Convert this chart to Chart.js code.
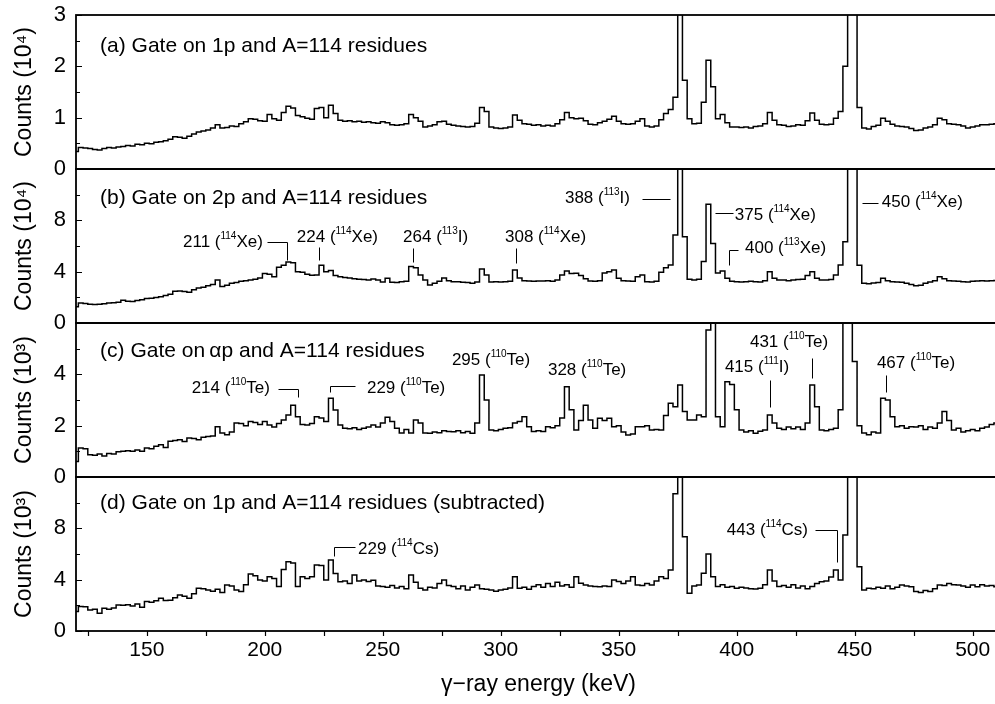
<!DOCTYPE html>
<html>
<head>
<meta charset="utf-8">
<script src="https://cdn.jsdelivr.net/npm/chart.js@4.4.0/dist/chart.umd.min.js"></script>
<style>
html, body { margin: 0; padding: 0; background: #fff; overflow: hidden; }
#wrap { position: relative; width: 995px; height: 704px; overflow: hidden; }
#wrap canvas { position: absolute; left: 0; top: 0; }
</style>
</head>
<body>
<div id="wrap">
  <canvas id="pa" width="1005" height="704"></canvas>
  <canvas id="pb" width="1005" height="704"></canvas>
  <canvas id="pc" width="1005" height="704"></canvas>
  <canvas id="pd" width="1005" height="704"></canvas>
</div>
<script>
// gamma-ray spectra, 2 keV bins starting at 120 keV
var binStart = 120, binWidth = 2, binLast = 510;
var energies = [];
for (var e = binStart; e <= binLast; e += binWidth) energies.push(e);

var xTicks = [150, 200, 250, 300, 350, 400, 450, 500];

// (a) counts in 10^4
var countsA = [
  0.34,0.42,0.41,0.40,0.38,0.37,0.40,0.42,0.41,0.43,
  0.44,0.46,0.45,0.48,0.47,0.50,0.49,0.52,0.53,0.55,
  0.58,0.63,0.62,0.60,0.64,0.68,0.72,0.74,0.76,0.80,
  0.86,0.80,0.81,0.84,0.83,0.88,0.92,0.98,0.97,0.94,
  0.93,1.06,0.98,0.95,1.10,1.22,1.19,1.04,1.02,0.99,
  0.97,1.18,1.20,1.00,1.24,1.08,0.95,0.93,0.94,0.92,
  0.93,0.91,0.92,0.90,0.89,0.92,0.90,0.86,0.85,0.86,
  0.88,1.06,1.00,0.93,0.82,0.84,0.86,0.92,0.93,0.87,
  0.85,0.84,0.83,0.82,0.83,0.89,1.20,1.12,0.82,0.80,
  0.79,0.80,0.82,1.05,0.95,0.88,0.87,0.85,0.86,0.84,
  0.85,0.84,0.88,0.96,1.10,1.00,0.98,0.99,0.94,0.87,
  0.86,0.90,0.93,0.97,1.03,0.93,0.88,0.87,0.88,0.93,
  0.98,0.84,0.82,0.84,0.96,1.08,1.16,1.40,3.60,1.73,
  0.98,0.88,0.89,1.30,2.12,1.60,0.98,1.06,0.90,0.82,
  0.82,0.81,0.82,0.80,0.83,0.84,0.88,1.10,0.95,0.86,
  0.85,0.83,0.84,0.86,0.85,0.94,1.09,0.95,0.87,0.86,
  0.87,0.99,1.12,2.00,3.60,3.60,1.20,0.80,0.78,0.83,
  0.85,0.99,0.93,0.87,0.84,0.83,0.82,0.79,0.75,0.76,
  0.80,0.82,0.86,0.99,0.96,0.88,0.87,0.86,0.84,0.80,
  0.82,0.84,0.86,0.86,0.87,0.88
];

// (b) counts in 10^4
var countsB = [
  1.27,1.55,1.52,1.46,1.45,1.47,1.50,1.55,1.58,1.62,
  1.78,1.70,1.68,1.75,1.82,1.90,1.92,1.98,2.05,2.15,
  2.25,2.48,2.50,2.45,2.40,2.60,2.72,2.78,2.90,3.00,
  3.35,2.85,2.95,3.10,3.15,3.25,3.30,3.35,3.40,3.50,
  3.85,3.80,3.60,4.35,4.50,4.75,4.70,4.00,3.95,3.80,
  3.72,3.75,4.50,4.00,4.10,3.70,3.60,3.55,3.50,3.45,
  3.40,3.38,3.35,3.42,3.35,3.20,3.48,3.18,3.15,3.22,
  3.25,4.40,4.30,3.75,3.35,2.96,3.10,3.25,3.50,3.30,
  3.22,3.22,3.18,3.15,3.10,3.20,4.20,3.75,3.20,3.22,
  3.20,3.22,3.25,4.13,3.50,3.30,3.28,3.25,3.28,3.27,
  3.30,3.25,3.35,3.75,4.05,3.85,3.87,3.70,3.45,3.27,
  3.25,3.30,3.90,3.99,4.13,3.48,3.30,3.27,3.25,3.60,
  3.74,3.22,3.20,3.25,3.95,4.30,4.52,6.86,13.0,6.73,
  3.40,3.35,3.40,4.80,9.25,6.20,3.90,4.05,3.48,3.25,
  3.22,3.20,3.22,3.25,3.22,3.20,3.30,3.99,3.48,3.35,
  3.35,3.30,3.35,3.38,3.40,3.70,3.99,3.48,3.35,3.35,
  3.38,3.74,4.52,6.34,13.0,13.0,4.50,3.10,3.05,3.12,
  3.15,3.48,3.30,3.22,3.20,3.18,3.10,3.00,2.91,2.95,
  3.10,3.20,3.30,3.61,3.45,3.30,3.27,3.25,3.22,3.20,
  3.25,3.27,3.30,3.28,3.30,3.32
];

// (c) counts in 10^3
var countsC = [
  0.60,1.13,1.10,0.87,0.85,0.90,0.82,0.92,0.90,0.98,
  1.00,1.02,1.00,1.05,1.00,1.13,1.10,1.20,1.26,1.15,
  1.39,1.42,1.45,1.38,1.52,1.50,1.45,1.55,1.58,1.60,
  1.96,1.71,1.65,1.75,2.10,2.08,2.00,2.16,2.12,2.05,
  2.16,2.03,1.95,2.08,2.22,2.42,2.80,2.35,2.05,2.03,
  2.08,2.35,2.30,2.16,3.07,2.61,2.03,1.90,1.88,1.92,
  1.85,1.90,1.95,2.03,1.95,2.10,2.33,2.16,1.90,1.71,
  1.85,1.71,2.22,2.10,1.71,1.70,1.75,1.72,1.80,1.77,
  1.76,1.80,1.72,1.77,1.70,2.10,3.97,3.00,1.83,1.80,
  1.85,1.90,1.92,2.10,2.16,2.35,1.96,1.77,1.80,1.77,
  1.96,1.92,2.00,2.30,3.52,2.62,1.83,2.20,2.80,2.22,
  1.90,2.29,2.20,2.29,1.96,2.00,1.75,1.64,1.68,1.96,
  1.96,2.00,1.83,1.85,1.83,2.40,2.87,2.74,3.58,2.55,
  2.22,2.22,2.42,2.35,5.73,7.00,2.35,1.96,3.71,3.60,
  2.62,1.83,1.75,1.80,1.70,1.78,1.83,2.42,2.10,1.90,
  1.85,1.95,1.88,1.95,1.85,2.10,3.58,2.74,1.83,1.80,
  1.85,1.90,2.62,7.00,7.00,4.50,2.00,1.71,1.65,1.75,
  1.71,3.07,3.00,2.35,1.96,2.00,1.90,1.96,1.95,2.00,
  1.85,1.95,1.90,2.10,2.55,2.20,1.83,1.90,1.75,1.80,
  1.85,1.80,1.90,1.95,2.05,2.10
];

// (d) counts in 10^3
var countsD = [
  1.51,1.90,1.88,1.64,1.70,1.38,1.77,1.70,1.80,2.03,
  2.00,2.05,1.95,2.10,1.85,2.29,2.25,2.35,2.55,2.37,
  2.40,2.60,2.81,2.70,2.55,2.90,3.33,3.30,3.20,3.10,
  3.25,3.00,3.59,3.50,3.20,3.07,3.60,4.44,4.30,3.97,
  3.90,4.23,4.10,3.46,4.80,5.40,5.30,3.46,4.23,4.10,
  4.23,5.14,5.10,3.97,5.53,4.49,3.84,3.90,3.70,4.36,
  3.90,3.97,3.85,3.95,3.50,3.46,3.40,3.55,3.35,3.46,
  3.30,4.36,3.80,3.33,3.20,3.40,3.35,3.70,3.97,3.55,
  3.46,3.30,3.50,3.20,3.40,3.59,3.30,3.25,3.20,3.10,
  3.20,3.25,3.35,4.23,3.33,3.40,3.25,3.46,3.60,3.40,
  3.70,3.46,3.80,3.50,3.60,3.40,4.23,3.72,3.59,3.50,
  3.46,3.45,3.50,3.46,3.97,3.85,3.70,3.90,4.23,3.59,
  3.55,3.70,3.59,3.90,4.23,4.10,4.75,10.7,14.0,7.35,
  2.94,3.50,3.59,4.50,6.00,4.23,3.46,3.60,3.40,3.46,
  3.33,3.40,3.35,3.30,3.28,3.33,3.60,4.75,3.90,3.46,
  3.55,3.40,3.60,3.35,3.50,3.30,3.46,3.70,3.84,3.90,
  4.20,4.75,3.97,7.48,14.0,14.0,5.00,3.20,3.33,3.30,
  3.40,3.33,3.50,3.30,3.40,3.59,3.50,3.45,3.07,3.00,
  3.15,3.07,3.30,3.59,3.55,3.70,3.60,3.59,3.50,3.40,
  3.59,3.45,3.60,3.50,3.55,3.45
];

var FONT = '"Liberation Sans", Arial, Helvetica, sans-serif';

// peak labels: anchor [keV, counts], leader polyline in the same units
var notesB = [
  { at: [199.2, 6.3], align: 'right', text: '211 (^114Xe)', lead: [[200.9, 6.3], [209.4, 6.3], [209.4, 4.9]] },
  { at: [213.6, 6.7], align: 'left', text: '224 (^114Xe)', lead: [[223, 5.9], [223, 4.9]] },
  { at: [258.6, 6.7], align: 'left', text: '264 (^113I)', lead: [[262.8, 5.84], [262.8, 4.75]] },
  { at: [301.8, 6.7], align: 'left', text: '308 (^114Xe)', lead: [[306.4, 5.85], [306.4, 4.68]] },
  { at: [327.2, 9.74], align: 'left', text: '388 (^113I)', lead: [[359.8, 9.66], [371.7, 9.66]] },
  { at: [399.2, 8.42], align: 'left', text: '375 (^114Xe)', lead: [[390.8, 8.57], [398.4, 8.57]] },
  { at: [403.5, 5.85], align: 'left', text: '400 (^113Xe)', lead: [[400.5, 5.69], [396.7, 5.69], [396.7, 4.52]] },
  { at: [461.5, 9.43], align: 'left', text: '450 (^114Xe)', lead: [[453, 9.35], [459.8, 9.35]] }
];
var notesC = [
  { at: [202.2, 3.47], align: 'right', text: '214 (^110Te)', lead: [[205.6, 3.43], [214.1, 3.43], [214.1, 3.12]] },
  { at: [243.3, 3.47], align: 'left', text: '229 (^110Te)', lead: [[238.2, 3.55], [227.6, 3.55], [227.6, 3.31]] },
  { at: [279.3, 4.56], align: 'left', text: '295 (^110Te)', lead: [] },
  { at: [320.0, 4.17], align: 'left', text: '328 (^110Te)', lead: [] },
  { at: [395.0, 4.29], align: 'left', text: '415 (^111I)', lead: [[414.1, 3.78], [414.1, 2.73]] },
  { at: [405.6, 5.26], align: 'left', text: '431 (^110Te)', lead: [[431.9, 4.64], [431.9, 3.86]] },
  { at: [459.4, 4.44], align: 'left', text: '467 (^110Te)', lead: [[463.2, 3.97], [463.2, 3.31]] }
];
var notesD = [
  { at: [239.5, 6.39], align: 'left', text: '229 (^114Cs)', lead: [[238.2, 6.55], [229.3, 6.55], [229.3, 5.85]] },
  { at: [430.2, 7.87], align: 'right', text: '443 (^114Cs)', lead: [[433.1, 7.87], [442.5, 7.87], [442.5, 5.38]] }
];

var panels = [
  { id: 'pa', counts: countsA, max: 3, step: 1, minor: 0.5, top: 15, bottom: 169, unit: 'Counts (10\u2074)',
    title: '(a) Gate on 1p and A=114 residues', titleAt: [130.2, 2.40], notes: [] },
  { id: 'pb', counts: countsB, max: 12, step: 4, minor: 2, top: 169, bottom: 323, unit: 'Counts (10\u2074)',
    title: '(b) Gate on 2p and A=114 residues', titleAt: [130.2, 9.70], notes: notesB },
  { id: 'pc', counts: countsC, max: 6, step: 2, minor: 1, top: 323, bottom: 477, unit: 'Counts (10\u00B3)',
    title: '(c) Gate on\u2009\u03B1p and A=114 residues', titleAt: [130.2, 4.89], notes: notesC },
  { id: 'pd', counts: countsD, max: 12, step: 4, minor: 2, top: 477, bottom: 631, unit: 'Counts (10\u00B3)',
    title: '(d) Gate on 1p and A=114 residues (subtracted)', titleAt: [130.2, 9.94], notes: notesD }
];

// text with ^digits as superscript
function richText(ctx, x, y, text, align, size) {
  var parts = text.split(/\^(\d+)/);
  var sup = Math.round(size * 0.58);
  var w = 0;
  parts.forEach(function (p, i) {
    ctx.font = (i % 2 ? sup : size) + 'px ' + FONT;
    w += ctx.measureText(p).width;
  });
  var cx = align === 'right' ? x - w : x;
  ctx.textAlign = 'left';
  ctx.textBaseline = 'middle';
  parts.forEach(function (p, i) {
    ctx.font = (i % 2 ? sup : size) + 'px ' + FONT;
    ctx.fillText(p, cx, i % 2 ? y - size * 0.36 : y);
    cx += ctx.measureText(p).width;
  });
}

var decor = {
  id: 'decor',
  afterDraw: function (chart) {
    var p = chart.options.plugins.decor;
    var ctx = chart.ctx, a = chart.chartArea;
    var xs = chart.scales.x, ys = chart.scales.y;
    ctx.save();
    ctx.strokeStyle = '#000';
    ctx.fillStyle = '#000';
    ctx.lineWidth = 1.8;
    ctx.strokeRect(a.left, a.top, a.right - a.left, a.bottom - a.top);

    // inward y ticks on both sides
    ctx.lineWidth = 1.2;
    for (var v = 0; v <= p.max + 1e-9; v += p.minor) {
      var yy = Math.round(ys.getPixelForValue(v)) + 0.5;
      var len = Math.abs(v / p.step - Math.round(v / p.step)) < 1e-6 ? 6 : 4;
      ctx.beginPath();
      ctx.moveTo(a.left, yy); ctx.lineTo(a.left + len, yy);
      ctx.moveTo(a.right, yy); ctx.lineTo(a.right - len, yy);
      ctx.stroke();
    }
    // outward x ticks on the bottom panel
    if (p.xTicks) {
      for (var t = 125; t <= 510; t += 25) {
        var xx = Math.round(xs.getPixelForValue(t)) + 0.5;
        ctx.beginPath();
        ctx.moveTo(xx, a.bottom); ctx.lineTo(xx, a.bottom + 5);
        ctx.stroke();
      }
    }

    // panel title
    richText(ctx, xs.getPixelForValue(p.titleAt[0]), ys.getPixelForValue(p.titleAt[1]), p.title, 'left', 21);

    // peak labels
    ctx.lineWidth = 1;
    p.notes.forEach(function (n) {
      if (n.lead.length) {
        ctx.beginPath();
        n.lead.forEach(function (pt, i) {
          var px = Math.round(xs.getPixelForValue(pt[0])) + 0.5;
          var py = Math.round(ys.getPixelForValue(pt[1])) + 0.5;
          if (i === 0) ctx.moveTo(px, py); else ctx.lineTo(px, py);
        });
        ctx.stroke();
      }
      richText(ctx, xs.getPixelForValue(n.at[0]), ys.getPixelForValue(n.at[1]), n.text, n.align, 17);
    });
    ctx.restore();
  }
};

panels.forEach(function (p, k) {
  var last = k === panels.length - 1;
  new Chart(document.getElementById(p.id), {
    type: 'line',
    data: {
      labels: energies,
      datasets: [{
        data: p.counts,
        borderColor: '#000',
        borderWidth: 1.5,
        pointRadius: 0,
        stepped: 'middle',
        fill: false,
        clip: 0
      }]
    },
    options: {
      responsive: false,
      animation: false,
      events: [],
      layout: { padding: { left: 0, right: 4, top: p.top, bottom: last ? 0 : 704 - p.bottom } },
      plugins: {
        legend: { display: false },
        tooltip: { enabled: false },
        decor: { max: p.max, step: p.step, minor: p.minor, xTicks: last, title: p.title, titleAt: p.titleAt, notes: p.notes }
      },
      scales: {
        x: {
          type: 'linear',
          min: 120,
          max: 512,
          display: last,
          grid: { display: false, drawTicks: false },
          border: { display: false },
          afterBuildTicks: function (s) { s.ticks = xTicks.map(function (v) { return { value: v }; }); },
          afterFit: function (s) { s.height = last ? 73 : 0; },
          ticks: { color: '#000', padding: 7, maxRotation: 0, autoSkip: false, font: { size: 21, family: FONT } },
          title: { display: last, text: '\u03B3\u2212ray energy (keV)', color: '#000', padding: { top: 0, bottom: 6 }, font: { size: 23, family: FONT } }
        },
        y: {
          min: 0,
          max: p.max,
          grid: { display: false, drawTicks: false },
          border: { display: false },
          afterFit: function (s) { s.width = 76; s.paddingTop = 0; s.paddingBottom = 0; },
          ticks: {
            stepSize: p.step,
            autoSkip: false,
            color: '#000',
            padding: 10,
            font: { size: 22, family: FONT },
            callback: function (v) { return (k > 0 && v === p.max) ? '' : String(v); }
          },
          title: { display: true, text: p.unit, color: '#000', padding: { top: 11, bottom: 0 }, font: { size: 23, family: FONT } }
        }
      }
    },
    plugins: [decor]
  });
});
</script>
</body>
</html>
